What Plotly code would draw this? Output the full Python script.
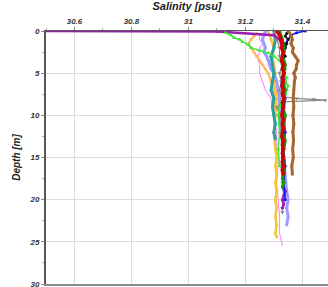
import plotly.graph_objects as go

# ---- data (depth in m, salinity in psu) ----
pink_depth = [0, 0.3, 0.6, 1, 1.5, 2, 2.5, 3, 3.5, 4, 5, 6, 7, 8, 10, 12, 14, 16, 18, 20, 22, 24, 25, 25.5]
pink_sal = [31.28, 31.27, 31.25, 31.25, 31.26, 31.25, 31.25, 31.245, 31.245, 31.25, 31.25, 31.26, 31.27, 31.29, 31.3, 31.31, 31.31, 31.315, 31.31, 31.315, 31.32, 31.32, 31.325, 31.33]

gold_depth = [0, 1, 2, 3, 4, 5, 6, 8, 10, 12, 14, 15, 16, 17, 18, 19, 20, 21, 22, 23, 24, 24.4]
gold_sal = [31.28, 31.29, 31.3, 31.295, 31.3, 31.305, 31.3, 31.31, 31.305, 31.3, 31.305, 31.31, 31.305, 31.31, 31.305, 31.31, 31.305, 31.31, 31.305, 31.31, 31.305, 31.31]

orange_depth = [0.3, 0.6, 1, 1.5, 2, 2.5, 3, 3.5, 4, 4.5, 5, 6, 7, 8, 9, 10]
orange_sal = [31.24, 31.23, 31.22, 31.21, 31.22, 31.23, 31.24, 31.25, 31.26, 31.27, 31.28, 31.29, 31.3, 31.3, 31.305, 31.3]

lav_depth = [0, 0.5, 1, 1.5, 2, 2.5, 3, 3.5, 4, 4.5, 5, 6, 7, 8, 10, 12, 14, 16, 18, 19, 20, 21, 22, 23]
lav_sal = [31.27, 31.265, 31.26, 31.265, 31.27, 31.265, 31.275, 31.28, 31.285, 31.29, 31.3, 31.31, 31.315, 31.32, 31.32, 31.325, 31.33, 31.335, 31.34, 31.345, 31.35, 31.345, 31.35, 31.345]

teal_depth = [0, 1, 2, 3, 4, 5, 6, 7, 8, 9, 10, 11, 12, 12.8]
teal_sal = [31.3, 31.305, 31.3, 31.29, 31.295, 31.3, 31.295, 31.29, 31.3, 31.295, 31.3, 31.305, 31.3, 31.305]

gray_depth = [0, 1, 2, 3, 4, 5, 6, 7, 7.8, 8, 8.1, 8.2, 8.4, 9, 10, 12, 14, 16, 18, 20, 21, 21.5]
gray_sal = [31.3, 31.31, 31.32, 31.32, 31.33, 31.32, 31.325, 31.32, 31.33, 31.38, 31.44, 31.48, 31.33, 31.31, 31.32, 31.325, 31.33, 31.325, 31.33, 31.335, 31.33, 31.33]

purple_depth = [0, 0.05, 0.5, 1, 2, 3, 4, 5, 6, 8, 10, 12, 14, 16, 18, 18.5, 19, 19.5, 20, 20.5, 21]
purple_sal = [30.3, 31.1, 31.3, 31.32, 31.33, 31.335, 31.33, 31.335, 31.33, 31.335, 31.33, 31.335, 31.33, 31.335, 31.335, 31.33, 31.34, 31.335, 31.33, 31.335, 31.33]

blue_depth = [0, 0.2, 0.5, 1, 1.5, 2, 3, 4, 5, 6, 7, 8, 10, 12, 14, 16, 18, 20]
blue_sal = [31.41, 31.38, 31.36, 31.35, 31.34, 31.34, 31.335, 31.34, 31.335, 31.34, 31.335, 31.34, 31.335, 31.34, 31.335, 31.34, 31.335, 31.34]

black_depth = [0, 0.3, 0.6, 1, 1.5, 2, 2.5, 3]
black_sal = [31.35, 31.345, 31.34, 31.35, 31.345, 31.34, 31.335, 31.34]

lime_depth = [0.2, 0.5, 0.8, 1.0, 1.3, 1.6, 2.0, 2.3, 2.6, 3.0, 3.5, 4, 4.5, 5, 5.5, 6, 6.5, 7, 7.5, 8, 9, 10, 12, 14, 16]
lime_sal = [31.13, 31.15, 31.16, 31.18, 31.19, 31.21, 31.22, 31.25, 31.28, 31.3, 31.32, 31.33, 31.34, 31.335, 31.345, 31.34, 31.35, 31.345, 31.34, 31.33, 31.32, 31.315, 31.32, 31.315, 31.32]

dgreen_depth = [0, 1, 2, 3, 4, 5, 6, 7, 8, 9, 10, 11, 12, 13, 14, 15, 16, 17, 17.5, 18, 18.5]
dgreen_sal = [31.32, 31.33, 31.335, 31.33, 31.34, 31.335, 31.33, 31.34, 31.335, 31.33, 31.34, 31.335, 31.33, 31.34, 31.335, 31.33, 31.335, 31.335, 31.33, 31.335, 31.33]

brown_depth = [0, 0.5, 1, 1.5, 2, 2.5, 3, 3.5, 4, 4.5, 5, 5.5, 6, 7, 8, 9, 10, 11, 12, 13, 14, 15, 16, 17]
brown_sal = [31.35, 31.36, 31.365, 31.36, 31.368, 31.365, 31.375, 31.385, 31.38, 31.378, 31.37, 31.375, 31.372, 31.37, 31.368, 31.37, 31.367, 31.37, 31.367, 31.369, 31.366, 31.368, 31.363, 31.365]

red_depth = [0, 0.5, 1, 1.5, 2, 2.5, 3, 3.5, 4, 4.5, 5, 5.5, 6, 6.5, 7, 7.5, 8, 8.5, 9, 9.5, 10, 10.5, 11, 11.5, 12, 12.5, 13, 13.5, 14, 14.5, 15, 15.5, 16, 16.5, 17]
red_sal = [31.31, 31.32, 31.325, 31.33, 31.327, 31.333, 31.33, 31.327, 31.333, 31.33, 31.336, 31.33, 31.333, 31.328, 31.333, 31.33, 31.336, 31.33, 31.333, 31.33, 31.328, 31.333, 31.33, 31.333, 31.33, 31.328, 31.333, 31.33, 31.333, 31.33, 31.333, 31.33, 31.333, 31.33, 31.333]

depth_ticks = [0, 5, 10, 15, 20, 25, 30]
sal_ticks = [30.6, 30.8, 31, 31.2, 31.4]
sal_tick_labels = ["30.6", "30.8", "31", "31.2", "31.4"]

profiles = [
    ("pink", pink_sal, pink_depth, "#ff7dff", 1, 0, "circle"),
    ("gold", gold_sal, gold_depth, "#f7c43c", 2.5, 3, "circle"),
    ("orange", orange_sal, orange_depth, "#ffb755", 2, 3, "circle"),
    ("lavender", lav_sal, lav_depth, "#9c9cff", 3, 3, "circle"),
    ("teal", teal_sal, teal_depth, "#2a9fa0", 3, 3, "circle"),
    ("gray", gray_sal, gray_depth, "#888888", 1.2, 4, "triangle-down"),
    ("purple", purple_sal, purple_depth, "#9a1fb0", 2.5, 3, "circle"),
    ("blue", blue_sal, blue_depth, "#1010ff", 1.5, 3, "circle"),
    ("black", black_sal, black_depth, "#111111", 1.5, 3, "circle"),
    ("lime", lime_sal, lime_depth, "#3de83d", 1.5, 4, "triangle-up"),
    ("dgreen", dgreen_sal, dgreen_depth, "#139a13", 3, 3, "circle"),
    ("brown", brown_sal, brown_depth, "#a8662e", 3, 3, "circle"),
    ("red", red_sal, red_depth, "#d40000", 3.5, 3, "circle"),
]

fig = go.Figure()
for name, s, d, col, lw, ms, sym in profiles:
    fig.add_trace(go.Scatter(
        x=s, y=d, name=name,
        mode="lines+markers" if ms else "lines",
        line=dict(color=col, width=lw),
        marker=dict(color=col, size=ms, symbol=sym),
        hoverinfo="skip",
    ))
# empty trace so the bottom frame axis is drawn
fig.add_trace(go.Scatter(x=[], y=[], xaxis="x2", showlegend=False, hoverinfo="skip"))

tickfont = dict(family="Liberation Sans", size=8, color="#333", weight="bold", style="italic")
titlefont = dict(family="Liberation Sans", size=11, color="#222", weight="bold", style="italic")

fig.update_layout(
    width=328, height=287,
    margin=dict(l=46, r=0, t=31, b=3, autoexpand=False),
    plot_bgcolor="white", paper_bgcolor="white",
    showlegend=False,
    xaxis=dict(
        range=[30.5, 31.49], side="top",
        tickvals=sal_ticks, ticktext=sal_tick_labels,
        showgrid=True, gridcolor="#dcdcdc", gridwidth=1,
        showline=True, linecolor="#555", linewidth=1.2,
        ticks="outside", ticklen=3, tickcolor="#888",
        minor=dict(dtick=0.1, ticks="outside", ticklen=2, tickcolor="#aaa", showgrid=False),
        tickfont=tickfont, zeroline=False, automargin=False,
        ticklabeloverflow="allow",
        title=dict(text="Salinity [psu]", font=titlefont, standoff=4),
    ),
    xaxis2=dict(
        matches="x", overlaying="x", side="bottom", anchor="y",
        showline=True, linecolor="#8a8a8a", linewidth=2,
        showgrid=False, showticklabels=False, ticks="", zeroline=False,
    ),
    yaxis=dict(
        range=[30, 0],
        tickvals=depth_ticks,
        showgrid=True, gridcolor="#dcdcdc", gridwidth=1,
        showline=True, linecolor="#555", linewidth=2,
        ticks="outside", ticklen=3, tickcolor="#888",
        minor=dict(dtick=2.5, ticks="outside", ticklen=2, tickcolor="#aaa", showgrid=False),
        tickfont=tickfont, zeroline=False, automargin=False,
        ticklabeloverflow="allow",
        title=dict(text="Depth [m]", font=dict(family="Liberation Sans", size=10, color="#222", weight="bold", style="italic"), standoff=7),
    ),
)

fig.write_html(
    "out.html",
    config={"displayModeBar": False, "staticPlot": True},
    post_script="document.body.style.margin='0';document.body.style.overflow='hidden';",
)
